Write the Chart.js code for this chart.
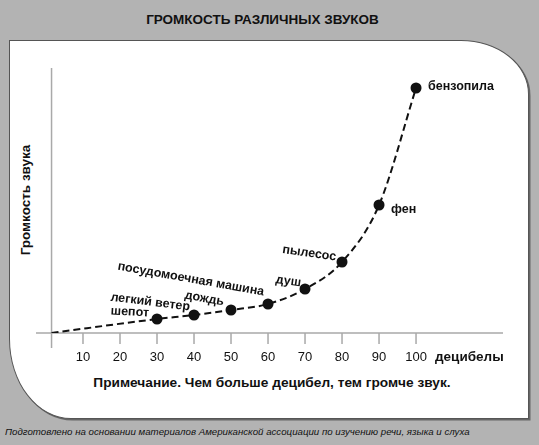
<!DOCTYPE html>
<html lang="ru">
<head>
<meta charset="utf-8">
<script src="https://cdn.jsdelivr.net/npm/chart.js@4"></script>
<style>
  html, body {
    margin: 0;
    padding: 0;
  }
  body {
    width: 539px;
    height: 445px;
    position: relative;
    overflow: hidden;
    background: #b3b3b3;
    font-family: "Liberation Sans", Arial, sans-serif;
    color: #111;
  }
  .panel {
    position: absolute;
    left: 9px;
    top: 40px;
    width: 518px;
    height: 377px;
    background: #fff;
    border: 1.5px solid #555;
    border-radius: 0 68px 0 62px / 0 54px 0 80px;
    box-shadow: 1.5px 1.5px 0 #666;
  }
  .title {
    position: absolute;
    left: 0;
    top: 12px;
    width: 525px;
    text-align: center;
    font-weight: bold;
    font-size: 13.5px;
    line-height: 16px;
  }
  .y-label {
    position: absolute;
    left: -44px;
    top: 192px;
    width: 140px;
    line-height: 16px;
    text-align: center;
    font-weight: bold;
    font-size: 13.5px;
    transform: rotate(-90deg);
  }
  .note {
    position: absolute;
    left: 0;
    top: 375px;
    width: 544px;
    text-align: center;
    font-weight: bold;
    font-size: 13.7px;
    line-height: 16px;
  }
  .source {
    position: absolute;
    left: 5px;
    top: 426px;
    font-style: italic;
    font-size: 9.7px;
    line-height: 12px;
  }
  .chart-box {
    position: absolute;
    left: 0;
    top: 0;
    width: 539px;
    height: 445px;
  }
</style>
</head>
<body>
  <div class="panel"></div>
  <div class="title">ГРОМКОСТЬ РАЗЛИЧНЫХ ЗВУКОВ</div>
  <div class="y-label">Громкость звука</div>
  <div class="note">Примечание. Чем больше децибел, тем громче звук.</div>
  <div class="source">Подготовлено на основании материалов Американской ассоциации по изучению речи, языка и слуха</div>
  <div class="chart-box"><canvas id="soundChart"></canvas></div>

<script>
const decibels = [30, 40, 50, 60, 70, 80, 90, 100];
const loudness = [14, 18, 23, 29, 44, 71, 128, 245];
const soundNames = ["шепот", "легкий ветер", "дождь", "посудомоечная машина", "душ", "пылесос", "фен", "бензопила"];
const tickValues = [10, 20, 30, 40, 50, 60, 70, 80, 90, 100];
const originDb = 1.5;
const xUnit = "децибелы";

// where each caption sits next to its dot
const labelPlacement = [
  { dx: -8, dy: -6, align: "right", rot: 3 },
  { dx: -4, dy: -8, align: "right", rot: 7 },
  { dx: -7, dy: -8, align: "right", rot: 10 },
  { dx: -4, dy: -12, align: "right", rot: 10 },
  { dx: -4, dy: -6, align: "right", rot: 8 },
  { dx: -6, dy: -5, align: "right", rot: 8 },
  { dx: 12, dy: 5, align: "left", rot: 0 },
  { dx: 12, dy: -1, align: "left", rot: 0 }
];

const FONT = '"Liberation Sans", Arial, sans-serif';
const AXIS_COLOR = "#a9a9a9";

const axesPlugin = {
  id: "axesPlugin",
  beforeDatasetsDraw(chart) {
    const ctx = chart.ctx;
    const x = chart.scales.x;
    const y = chart.scales.y;
    const area = chart.chartArea;
    const x0 = x.getPixelForValue(originDb);
    const y0 = y.getPixelForValue(0);

    ctx.save();
    ctx.strokeStyle = AXIS_COLOR;
    ctx.lineWidth = 1.5;

    ctx.beginPath();
    ctx.moveTo(area.left, y0);
    ctx.lineTo(area.right, y0);
    ctx.moveTo(x0, area.top);
    ctx.lineTo(x0, y0 + 15);
    tickValues.forEach(v => {
      const px = x.getPixelForValue(v);
      ctx.moveTo(px, y0);
      ctx.lineTo(px, y0 + 11);
    });
    ctx.stroke();

    ctx.fillStyle = "#111";
    ctx.font = "13px " + FONT;
    ctx.textAlign = "center";
    ctx.textBaseline = "middle";
    tickValues.forEach(v => {
      ctx.fillText(String(v), x.getPixelForValue(v), y0 + 24);
    });

    ctx.font = "bold 13.5px " + FONT;
    ctx.textAlign = "left";
    ctx.fillText(xUnit, x.getPixelForValue(100) + 19, y0 + 24);
    ctx.restore();
  }
};

const captionPlugin = {
  id: "captionPlugin",
  afterDatasetsDraw(chart) {
    const ctx = chart.ctx;
    const points = chart.getDatasetMeta(0).data;

    ctx.save();
    ctx.fillStyle = "#111";
    ctx.font = "bold 12.5px " + FONT;
    ctx.textBaseline = "middle";
    soundNames.forEach((name, i) => {
      const p = points[i + 1];
      const place = labelPlacement[i];
      ctx.save();
      ctx.translate(p.x + place.dx, p.y + place.dy);
      ctx.rotate(place.rot * Math.PI / 180);
      ctx.textAlign = place.align;
      ctx.fillText(name, 0, 0);
      ctx.restore();
    });
    ctx.restore();
  }
};

const points = [{ x: originDb, y: 0 }].concat(
  decibels.map((db, i) => ({ x: db, y: loudness[i] }))
);

new Chart(document.getElementById("soundChart"), {
  type: "line",
  data: {
    datasets: [{
      data: points,
      borderColor: "#111",
      borderWidth: 2,
      borderDash: [7, 4],
      cubicInterpolationMode: "monotone",
      pointRadius: points.map((p, i) => i === 0 ? 0 : 5.5),
      pointBackgroundColor: "#111",
      pointBorderColor: "#111",
      pointBorderWidth: 0,
      fill: false
    }]
  },
  options: {
    responsive: true,
    maintainAspectRatio: false,
    animation: false,
    events: [],
    layout: {
      padding: { left: 36, right: 36, top: 68, bottom: 112 }
    },
    scales: {
      x: { type: "linear", min: -2.7, max: 123.5, display: false },
      y: { type: "linear", min: 0, max: 265, display: false }
    },
    plugins: {
      legend: { display: false },
      tooltip: { enabled: false }
    }
  },
  plugins: [axesPlugin, captionPlugin]
});
</script>
</body>
</html>
